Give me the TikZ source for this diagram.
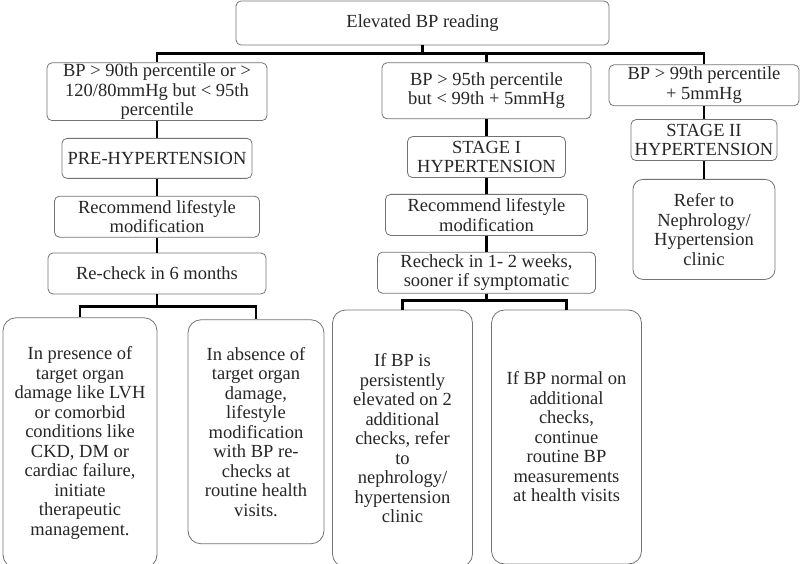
\documentclass[tikz,border=0pt]{standalone}
\usepackage{fontspec}
\setmainfont{Liberation Serif}
\usetikzlibrary{graphs,positioning}
\tikzset{
    box/.style ={
        shape=rectangle,
        rounded corners=5pt,
        draw=black!55,
        line width=0.8pt,
        text=black!85,
        align=center,
        inner xsep=0.5pt,
        inner ysep=1pt,
        font=\fontsize{18.5}{19.5}\selectfont
    },
    tall/.style ={
        box,
        rounded corners=13pt
    },
    link/.style ={
        draw=black,
        line width=2.6pt
    }
}

\begin{document}
\begin{tikzpicture}
    \useasboundingbox (0,0) rectangle (800pt,-564pt);
    \node[box,minimum width=373pt,minimum height=44pt] (reading) at (422.5pt,-23pt) {Elevated BP reading};
    % pre-hypertension column
    \node[box,below=17pt of reading,xshift=-265.5pt,minimum width=220pt,minimum height=57pt] (prehigh) {BP > 90th percentile or >\\120/80mmHg but < 95th\\percentile};
    \node[box,below=17pt of prehigh,minimum width=190pt,minimum height=40pt] (prestage) {PRE-HYPERTENSION};
    \node[box,below=17pt of prestage,minimum width=205pt,minimum height=41pt] (prelife) {Recommend lifestyle\\modification};
    \node[box,below=15pt of prelife,minimum width=218pt,minimum height=41pt] (precheck) {Re-check in 6 months};
    \node[tall,below=23pt of precheck,xshift=-77pt,minimum width=154pt,minimum height=250pt] (preyes) {In presence of\\target organ\\damage like LVH\\or comorbid\\conditions like\\CKD, DM or\\cardiac failure,\\initiate\\therapeutic\\management.};
    \node[tall,below=25pt of precheck,xshift=99pt,minimum width=136pt,minimum height=224pt] (preno) {In absence of\\target organ\\damage,\\lifestyle\\modification\\with BP re-\\checks at\\routine health\\visits.};
    % stage I column
    \node[box,below=17pt of reading,xshift=64pt,minimum width=209pt,minimum height=56pt] (onehigh) {BP > 95th percentile\\but < 99th + 5mmHg};
    \node[box,below=17pt of onehigh,minimum width=158pt,minimum height=41pt] (onestage) {STAGE I\\HYPERTENSION};
    \node[box,below=16pt of onestage,minimum width=202pt,minimum height=41pt] (onelife) {Recommend lifestyle\\modification};
    \node[box,below=16pt of onelife,minimum width=218pt,minimum height=41pt] (onecheck) {Recheck in 1- 2 weeks,\\sooner if symptomatic};
    \node[tall,below=16pt of onecheck,xshift=-84pt,minimum width=140pt,minimum height=257pt] (oneyes) {If BP is\\persistently\\elevated on 2\\additional\\checks, refer\\to\\nephrology/\\hypertension\\clinic};
    \node[tall,below=16pt of onecheck,xshift=80pt,minimum width=150pt,minimum height=254pt] (oneno) {If BP normal on\\additional\\checks,\\continue\\routine BP\\measurements\\at health visits};
    % stage II column
    \node[box,below=19pt of reading,xshift=281.5pt,minimum width=190pt,minimum height=41pt] (twohigh) {BP > 99th percentile\\+ 5mmHg};
    \node[box,below=13pt of twohigh,minimum width=146pt,minimum height=41pt] (twostage) {STAGE II\\HYPERTENSION};
    \node[box,below=18pt of twostage,rounded corners=10pt,minimum width=142pt,minimum height=100pt] (tworefer) {Refer to\\Nephrology/\\Hypertension\\clinic};
    \draw[link] (reading.south) -- ++(0,-8pt) -| (prehigh.north);
    \draw[link] (reading.south) -- ++(0,-8pt) -| (onehigh.north);
    \draw[link] (reading.south) -- ++(0,-8pt) -| (twohigh.north);
    \graph[edges={link}]{
        (prehigh)--(prestage)--(prelife)--(precheck);
        (onehigh)--(onestage)--(onelife)--(onecheck);
        (twohigh)--(twostage)--(tworefer);
    };
    \draw[link] (precheck.south) -- ++(0,-12pt) -| (preyes.north);
    \draw[link] (precheck.south) -- ++(0,-12pt) -| (preno.north);
    \draw[link] (onecheck.south) -- ++(0,-7pt) -| (oneyes.north);
    \draw[link] (onecheck.south) -- ++(0,-7pt) -| (oneno.north);
\end{tikzpicture}
\end{document}
